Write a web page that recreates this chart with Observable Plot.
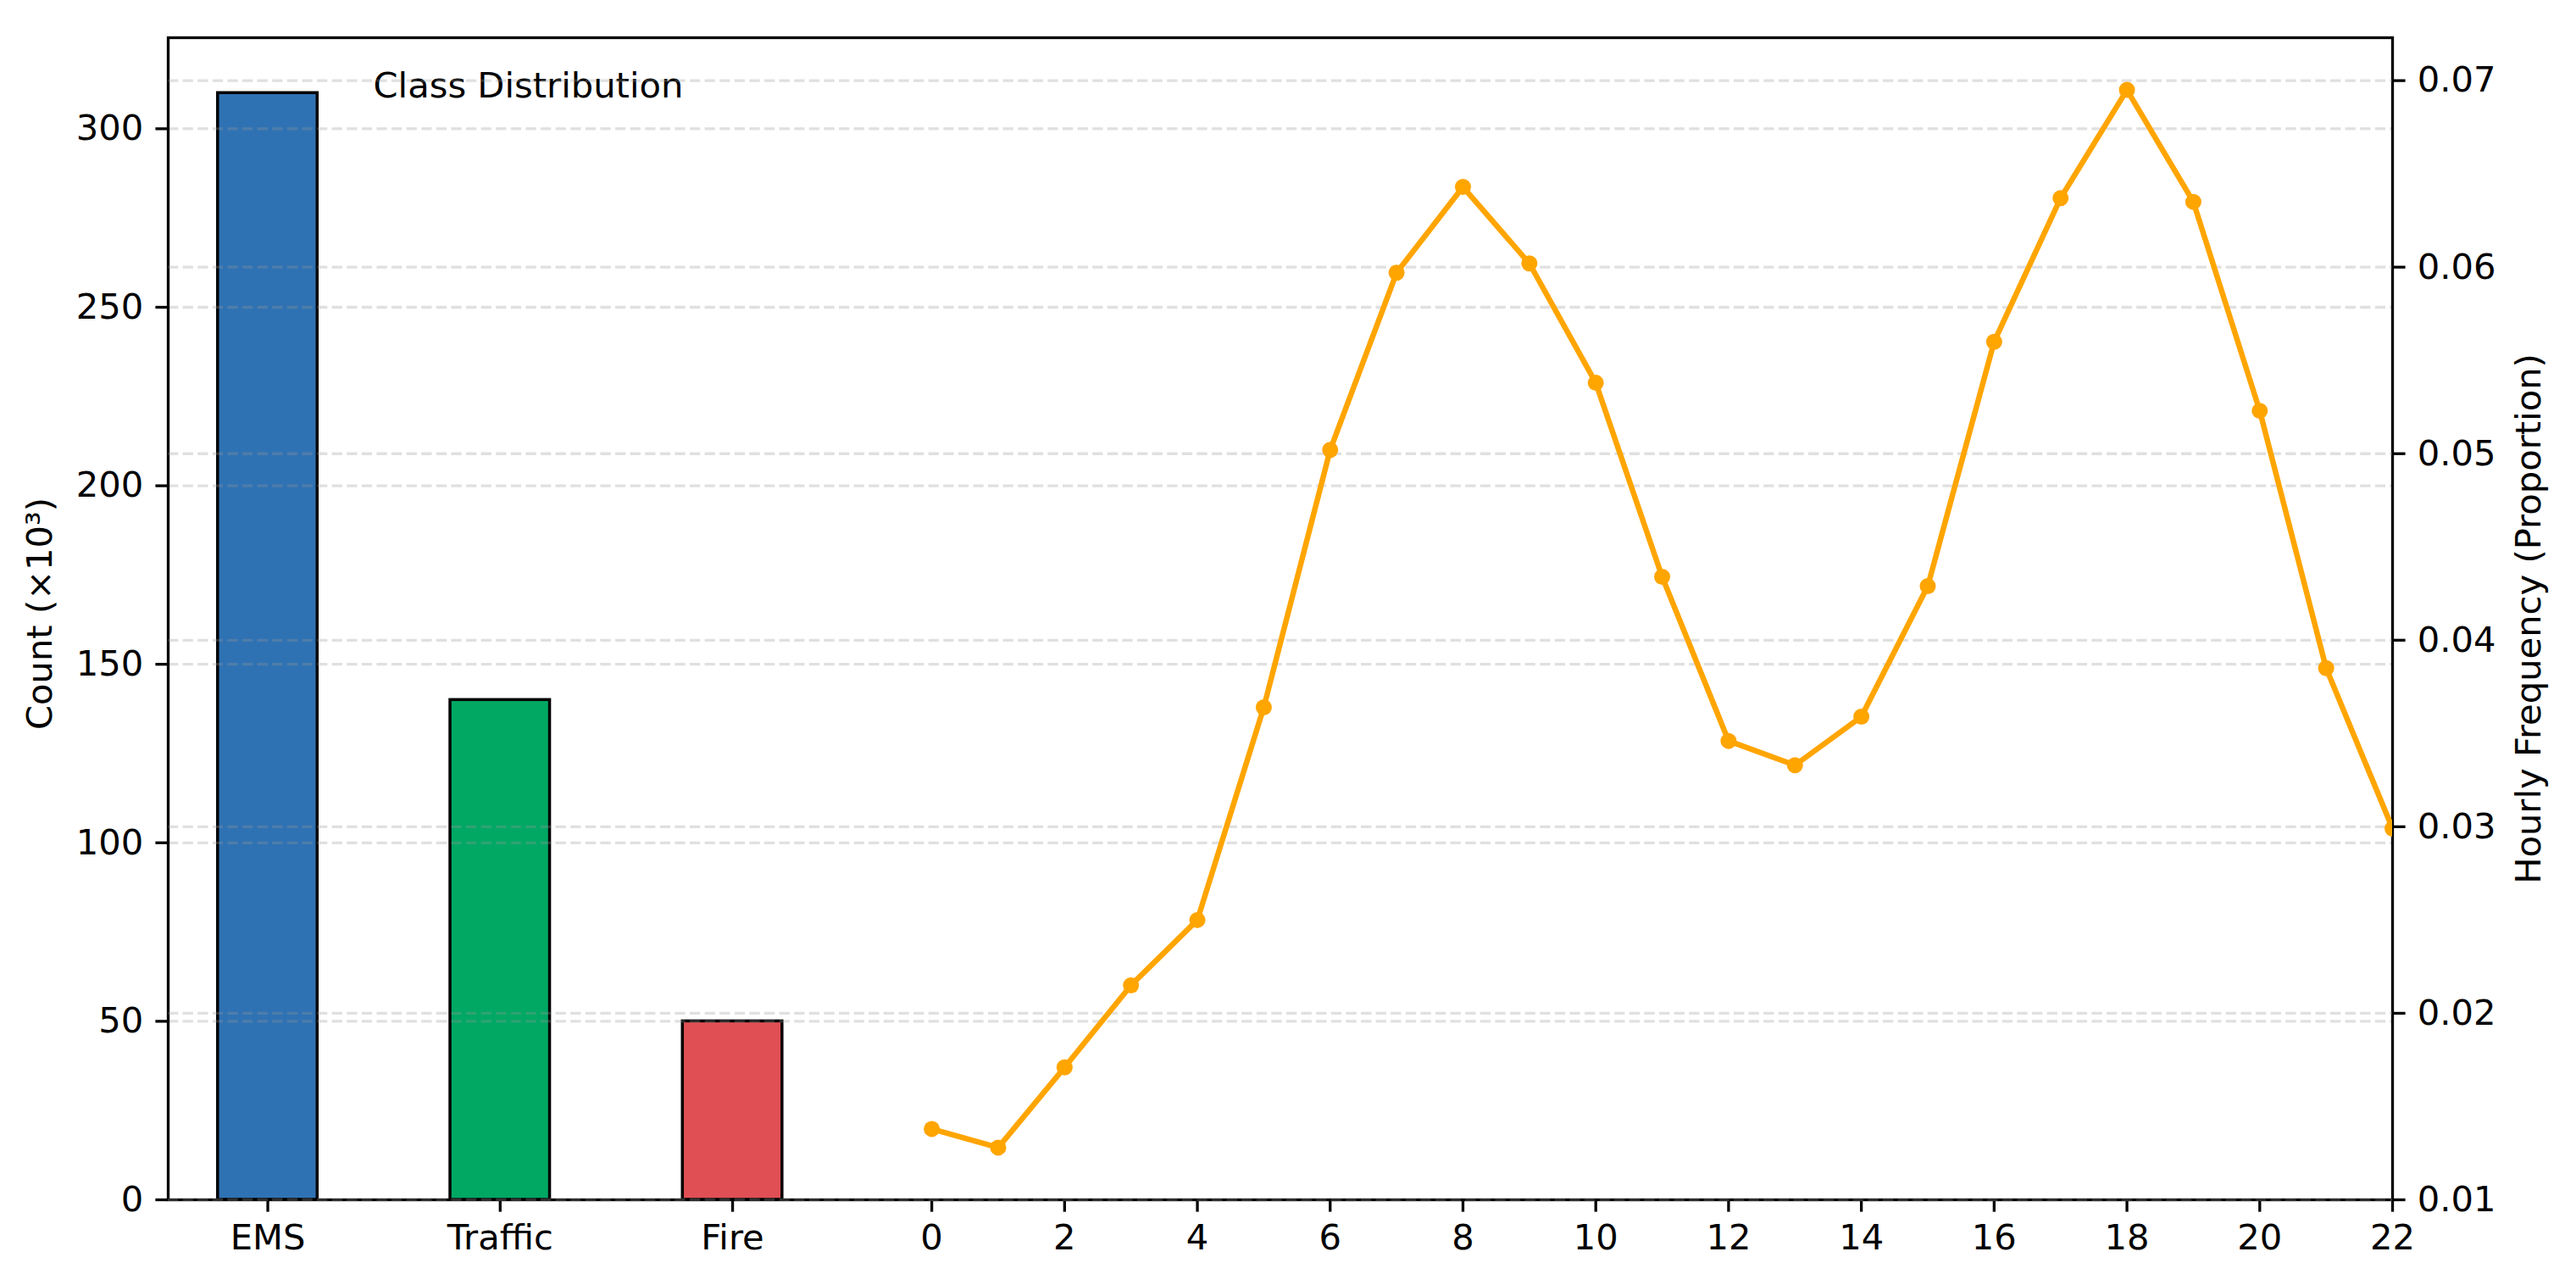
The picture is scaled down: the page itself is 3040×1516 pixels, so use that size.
<!DOCTYPE html>
<html><head><meta charset="utf-8">
<script src="https://cdn.jsdelivr.net/npm/d3@7"></script>
<script src="https://cdn.jsdelivr.net/npm/@observablehq/plot@0.6"></script>
<style>
html,body{margin:0;padding:0;background:#fff;}
#wrap{position:relative;width:3040px;height:1516px;}
#wrap svg{position:absolute;left:0;top:0;}
</style></head><body><div id="wrap"></div>
<script>
// ---- data ----
const categories = ["EMS", "Traffic", "Fire"];
const counts = [310, 140, 50]; // ×10³
const hours = [0,1,2,3,4,5,6,7,8,9,10,11,12,13,14,15,16,17,18,19,20,21,22];
const hourlyFreq = [0.0138,0.0128,0.0171,0.0215,0.0250,0.0364,0.0502,0.0597,0.0643,0.0602,0.0538,0.0434,
                    0.0346,0.0333,0.0359,0.0429,0.0560,0.0637,0.0695,0.0635,0.0523,0.0385,0.0299];
const leftTicks = [0, 50, 100, 150, 200, 250, 300];
const rightTicks = [0.01, 0.02, 0.03, 0.04, 0.05, 0.06, 0.07];
const hourTicks = [0, 2, 4, 6, 8, 10, 12, 14, 16, 18, 20, 22];
const leftLabel = "Count (×10³)";
const rightLabel = "Hourly Frequency (Proportion)";
const annotation = "Class Distribution";

// ---- style / layout ----
const barColors = ["#2F72B3", "#00A864", "#E04F54"];
const lineColor = "#FFA500";
const W = 3040, H = 1516;
const M = {marginLeft: 198, marginRight: 217, marginTop: 44, marginBottom: 101};
const font = {fontFamily: "'DejaVu Sans', sans-serif", fontSize: "41.67px", background: "transparent", color: "black"};
const xDomain = [-11.5, 22];
const catPos = i => -10 + 3.5 * i;
const barHalf = 0.75;
const gridStyle = {stroke: "#999999", strokeOpacity: 0.3, strokeWidth: 3.3, strokeDasharray: "12.3,5.3"};
const tickStyle = {tickSize: 14.6, tickPadding: 14.6, strokeWidth: 3.3, label: null};

const barData = categories.map((c, i) => ({category: c, count: counts[i], pos: catPos(i)}));
const hourData = hours.map((h, i) => ({hour: h, freq: hourlyFreq[i]}));
const catMap = new Map(categories.map((c, i) => [catPos(i), c]));
const xTicks = categories.map((c, i) => catPos(i)).concat(hourTicks);

const p1 = Plot.plot({
  width: W, height: H, ...M,
  style: font,
  x: {domain: xDomain},
  y: {domain: [0, 325.5]},
  color: {domain: categories, range: barColors},
  marks: [
    Plot.rectY(barData, {x1: d => d.pos - barHalf, x2: d => d.pos + barHalf, y: "count", fill: "category", stroke: "black", strokeWidth: 3.5}),
    Plot.gridY({ticks: leftTicks, ...gridStyle}),
    Plot.axisY({ticks: leftTicks, ...tickStyle}),
    Plot.axisX({ticks: xTicks, tickFormat: d => catMap.has(d) ? catMap.get(d) : String(d), ...tickStyle}),
    Plot.frame({stroke: "black", strokeWidth: 3.3}),
    Plot.text([leftLabel], {frameAnchor: "left", rotate: -90, dx: -151, dy: -6, textAnchor: "middle", lineAnchor: "middle", fill: "black"}),
    Plot.text([annotation], {frameAnchor: "top-left", dx: 242, dy: 41, textAnchor: "start", lineAnchor: "top", fill: "black"})
  ]
});

const p2 = Plot.plot({
  width: W, height: H, ...M,
  style: font,
  x: {domain: xDomain, axis: null},
  y: {domain: [0.01, 0.0723]},
  marks: [
    Plot.gridY({ticks: rightTicks, ...gridStyle}),
    Plot.line(hourData, {x: "hour", y: "freq", stroke: lineColor, strokeWidth: 6.5, clip: true}),
    Plot.dot(hourData, {x: "hour", y: "freq", r: 9.5, fill: lineColor, stroke: "none", clip: true}),
    Plot.axisY({anchor: "right", ticks: rightTicks, tickFormat: d3.format(".2f"), ...tickStyle}),
    Plot.text([rightLabel], {frameAnchor: "right", rotate: -90, dx: 161, textAnchor: "middle", lineAnchor: "middle", fill: "black"})
  ]
});

const wrap = document.getElementById("wrap");
wrap.appendChild(p1);
wrap.appendChild(p2);
</script>
</body></html>
